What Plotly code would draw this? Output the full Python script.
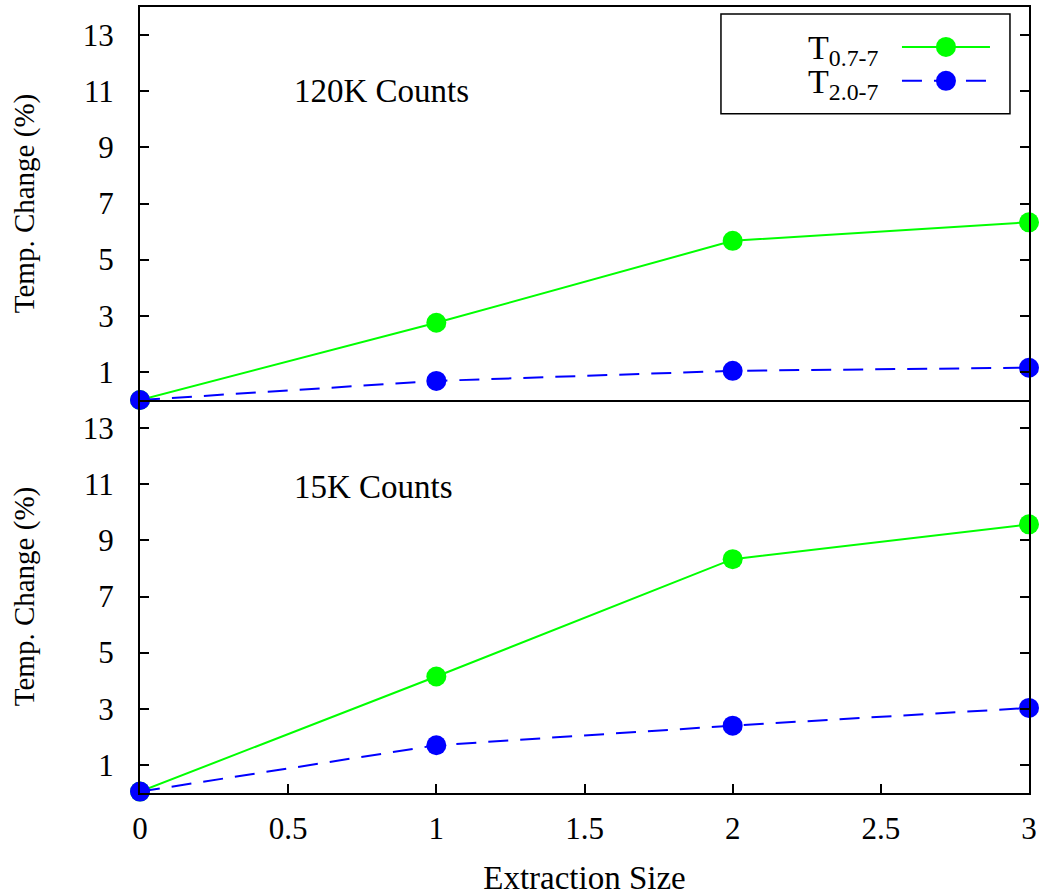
import plotly.graph_objects as go
from plotly.subplots import make_subplots

extraction_size = [0, 1, 2, 3]
t07_120k = [0.0, 2.75, 5.67, 6.33]
t20_120k = [0.0, 0.68, 1.04, 1.15]
t07_15k = [0.05, 4.15, 8.33, 9.57]
t20_15k = [0.05, 1.70, 2.40, 3.03]
panel_labels = ["120K Counts", "15K Counts"]
series_names = ["T<sub>0.7-7</sub>", "T<sub>2.0-7</sub>"]
y_tick_vals = [1, 3, 5, 7, 9, 11, 13]
x_tick_vals = [0, 0.5, 1, 1.5, 2, 2.5, 3]
x_tick_text = ["0", "0.5", "1", "1.5", "2", "2.5", "3"]

FONT = "Liberation Serif"
GREEN = "#00ff00"
BLUE = "#0000ff"
colors = [GREEN, BLUE]
dashes = ["solid", "20px,12px"]

fig = make_subplots(rows=2, cols=1, shared_xaxes=True, vertical_spacing=0)

panels = [(t07_120k, t20_120k, 1), (t07_15k, t20_15k, 2)]
for g, b, row in panels:
    for k, ys in enumerate([g, b]):
        fig.add_trace(go.Scatter(
            x=extraction_size, y=ys, mode="lines+markers", name=series_names[k],
            legendgroup=series_names[k],
            line=dict(color=colors[k], width=2, dash=dashes[k]),
            marker=dict(size=20, color=colors[k]),
            cliponaxis=False, showlegend=False), row=row, col=1)

fig.update_yaxes(range=[0, 14], tickvals=y_tick_vals, ticks="inside", ticklen=9,
                 tickwidth=2, tickcolor="black", showline=True, linewidth=2,
                 linecolor="black", mirror="allticks", showgrid=False, zeroline=False,
                 tickfont=dict(family=FONT, size=31, color="black"),
                 ticklabelstandoff=18,
                 title=dict(text="Temp. Change (%)", font=dict(family=FONT, size=29, color="black"),
                            standoff=40))

fig.update_xaxes(range=[0, 3], showline=True, linewidth=2, linecolor="black",
                 showgrid=False, zeroline=False)
fig.update_xaxes(ticks="", showticklabels=False, mirror=True, row=1, col=1)
fig.update_xaxes(tickvals=x_tick_vals, ticktext=x_tick_text, mirror=False,
                 ticks="inside", ticklen=9, tickwidth=2, tickcolor="black",
                 tickfont=dict(family=FONT, size=31, color="black"), ticklabelstandoff=7,
                 title=dict(text="Extraction Size", font=dict(family=FONT, size=33, color="black"),
                            standoff=22),
                 row=2, col=1)

fig.add_annotation(x=0.513, y=11.0, xref="x", yref="y", text=panel_labels[0], showarrow=False,
                   xanchor="left", yanchor="middle", font=dict(family=FONT, size=33, color="black"))
fig.add_annotation(x=0.513, y=10.9, xref="x2", yref="y2", text=panel_labels[1], showarrow=False,
                   xanchor="left", yanchor="middle", font=dict(family=FONT, size=33, color="black"))

# Legend box (gnuplot style: label on the left, sample on the right)
fig.add_shape(type="rect", xref="paper", yref="paper", x0=0.6535, x1=0.9786, y0=0.8642, y1=0.9911,
              line=dict(color="black", width=1.5), fillcolor="white", layer="above")
legend_rows = [0.9492, 0.9061]
for k, ly in enumerate(legend_rows):
    fig.add_shape(type="line", xref="paper", yref="paper", x0=0.8571, x1=0.9561, y0=ly, y1=ly,
                  line=dict(color=colors[k], width=2, dash=dashes[k]), layer="above")
    fig.add_shape(type="circle", xref="paper", yref="paper", xsizemode="pixel", ysizemode="pixel",
                  xanchor=0.9066, yanchor=ly, x0=-10, x1=10, y0=-10, y1=10,
                  line=dict(color=colors[k], width=0), fillcolor=colors[k], layer="above")
    fig.add_annotation(x=0.8324, y=ly - 0.004, xref="paper", yref="paper", text=series_names[k],
                       showarrow=False, xanchor="right", yanchor="middle",
                       font=dict(family=FONT, size=34, color="black"))

fig.update_layout(
    width=1045, height=896,
    margin=dict(l=140, r=16, t=5, b=103),
    plot_bgcolor="white", paper_bgcolor="white",
    showlegend=False,
)

fig.write_html("out.html", config={"displayModeBar": False},
               post_script="document.body.style.margin='0';")
